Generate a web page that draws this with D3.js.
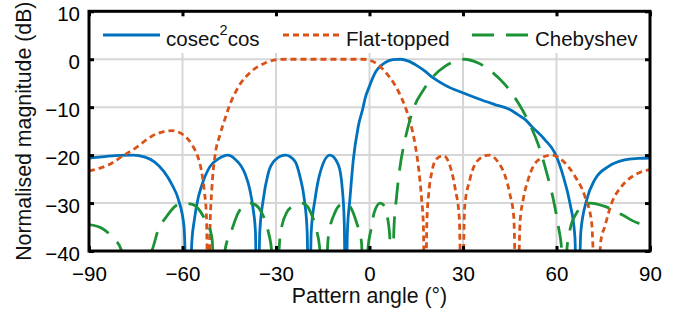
<!DOCTYPE html>
<html>
<head>
<meta charset="utf-8">
<script src="https://cdn.jsdelivr.net/npm/d3@7"></script>
<style>
  body { margin: 0; background: #fff; }
  svg { display: block; font-family: "Liberation Sans", Arial, sans-serif; }
</style>
</head>
<body>
<svg id="chart" width="688" height="322"></svg>
<script>
// pattern data (angle in degrees, magnitude in dB)
const cosecAngles = [-90, -85, -80, -76, -72, -69, -66, -63.5, -61.3, -59.5, -58.2, -57, -56.2, -55, -53.9, -51.2, -48.5, -45.5,
  -43.2, -40, -38.4, -37.3, -36.6, -36, -35.2, -34.1, -32.5, -30.3, -26.9, -23.9, -22.3, -20.9, -20, -19.4, -18.7, -17.5, -15.9,
  -12.7, -10, -8.7, -8.1, -7.6, -7.1, -6.3, -5.2, -3.6, -2, -1.5, 0, 1.75, 5, 7.5, 10, 12.5, 15.6, 18, 20, 24.2, 30.3, 36, 40, 45,
  47.7, 50, 52, 56.3, 59.5, 62.2, 64.3, 65.9, 66.8, 67.8, 69.7, 72.3, 76.6, 81.9, 86, 90];
const cosecValues = [-20.6, -20.3, -20.05, -20, -20.4, -21.4, -23.4, -26, -29.3, -35, -60, -38, -33.5, -29, -26.5, -22.4, -20.8, -20,
  -20.8, -23.8, -27.2, -31.4, -36, -60, -36, -29.3, -23.8, -21, -20, -21.3, -24.5, -29.3, -36, -60, -36, -29.3, -23.8,
  -20, -22, -27.2, -34, -60, -36, -29.3, -21, -14, -9.9, -8.4, -5.6, -2.9, -0.7, -0.1, 0, -0.4, -1.5, -2.6, -3.7, -5.4, -7.1, -8.5, -9.4, -10.5,
  -11.6, -12.6, -14, -16.8, -19.6, -24.5, -30, -37, -60, -36, -29.3, -25.1, -22.4, -21, -20.7, -20.6];

const flatAngles = [-90, -86, -83, -79.5, -75, -70, -66, -63.5, -61, -59.7, -57, -55, -54, -53, -52.3, -51.7, -51.2, -50.6, -49.6,
  -48, -46.4, -45, -42, -38, -33.5, -30.3, -27, -20, -10, -2, 0, 2.5, 5, 8, 10.3, 12, 13.5, 14.7, 15.8, 16.7, 17.3, 17.8, 18.4, 19,
  20, 21.5, 23.7, 25.8, 27.5, 28.8, 29.7, 30.5, 32.2, 34.9, 38.3, 41.3, 43.5, 45, 46.3, 47.3, 48.3, 49.3, 50.9, 54.2, 58.4, 62.2,
  66, 69.1, 71.3, 72.9, 74.2, 75.5, 77.7, 80.9, 85.2, 90];
const flatValues = [-23.3, -22.6, -21.8, -20.3, -18.5, -16.1, -15.1, -14.9, -15.3, -15.8, -17.8, -20.5, -23, -27.5, -33, -60, -36, -27.2, -20.3,
  -15.8, -12.5, -9.8, -5.7, -2.6, -0.8, -0.15, 0, 0, 0, 0, -0.2, -1, -2.6, -5.2, -8.1, -10.9, -14.2, -18, -23, -29, -35, -60, -34, -28,
  -23.5, -20.8, -20.1, -22.2, -27, -33, -60, -31, -25.1, -21, -20, -21.5, -24.3, -28, -33, -60, -34, -29.3, -25.1, -21, -20, -21.3,
  -24.5, -28.6, -34.2, -60, -38, -34.9, -30, -26.5, -24.1, -23];

const chebAngles = [-90, -86, -82.7, -79.5, -75.5, -71.5, -69.9, -67.8, -65.1, -62.4, -60.3, -58, -56, -53.3, -50.6, -49, -46.4,
  -44.2, -42.1, -40, -38.4, -36.5, -34.6, -32.5, -31.4, -30.5, -28.7, -26.6, -23.9, -21.8, -20, -18.6, -17, -15.9, -15, -13.2,
  -11.1, -9.5, -7.9, -6, -4.1, -2.6, -1.5, -0.5, 0.5, 1.5, 3.4, 4.9, 5.6, 6.5, 7.1, 7.8, 8.7, 9.8, 11.4, 13, 14.6, 17.3, 19.9,
  24.2, 28, 30.5, 34.9, 39.2, 43.5, 47.8, 51, 54.2, 56.9, 59, 60.6, 61.7, 62.5, 63.3, 64.3, 66.5, 69.1, 70.7, 75.5, 80.9, 86.3, 90];
const chebValues = [-34.5, -35.2, -37, -40, -60, -41, -40, -35.6, -32.8, -30.7, -30, -30.1, -30.5, -32.8, -37, -60, -40,
  -35.6, -32, -30.4, -30, -30.4, -32, -35.9, -40, -60, -37, -32, -30.4, -30, -30.6, -32.4, -35.6, -40, -60, -37,
  -32, -30.4, -30, -31, -34.2, -38, -60, -39.5, -35.5, -32, -30, -30.7, -32.5, -37, -60, -36, -28.6, -22.4, -16.8, -12.6, -9.5, -6.4, -4,
  -1.5, -0.3, 0, -0.8, -2.6, -5.3, -9.2, -13, -17.9, -23.8, -29.3, -34.9, -40, -60, -40, -35.6, -32, -30.4, -30, -30.7, -32.4, -34.2, -34.5];

const seriesNames = ["cosec2cos", "Flat-topped", "Chebyshev"];
const seriesColors = ["#0072BD", "#D95319", "#1b9236"];
const seriesDash = [null, "6,4", "22,12"];
const xTicks = [-90, -60, -30, 0, 30, 60, 90];
const yTicks = [-40, -30, -20, -10, 0, 10];

const svg = d3.select("#chart");
const margin = { top: 11.3, right: 38, bottom: 71, left: 89 };
const W = 688, H = 322;

const x = d3.scaleLinear().domain([-90, 90]).range([margin.left, W - margin.right]);
const y = d3.scaleLinear().domain([-40, 10]).range([H - margin.bottom, margin.top]);

// grid
svg.append("g")
  .selectAll("line.vg")
  .data(xTicks.slice(1, -1))
  .join("line")
  .attr("x1", d => x(d)).attr("x2", d => x(d))
  .attr("y1", y(-40)).attr("y2", y(10))
  .attr("stroke", "#d6d6d6").attr("stroke-width", 2);
svg.append("g")
  .selectAll("line.hg")
  .data(yTicks.slice(1, -1))
  .join("line")
  .attr("x1", x(-90)).attr("x2", x(90))
  .attr("y1", d => y(d)).attr("y2", d => y(d))
  .attr("stroke", "#d6d6d6").attr("stroke-width", 2);

// legend background sits over the grid
svg.append("rect")
  .attr("x", x(-90) + 2).attr("y", 16)
  .attr("width", x(90) - x(-90) - 4).attr("height", 37)
  .attr("fill", "#fff");

svg.append("clipPath").attr("id", "plot-clip")
  .append("rect")
  .attr("x", x(-90)).attr("y", y(10))
  .attr("width", x(90) - x(-90)).attr("height", y(-40) - y(10));

const series = [
  cosecAngles.map((a, i) => [a, cosecValues[i]]),
  flatAngles.map((a, i) => [a, flatValues[i]]),
  chebAngles.map((a, i) => [a, chebValues[i]])
];

const line = d3.line()
  .x(d => x(d[0]))
  .y(d => y(d[1]))
  .curve(d3.curveMonotoneX);

const plot = svg.append("g").attr("clip-path", "url(#plot-clip)");
series.forEach((s, i) => {
  plot.append("path")
    .datum(s)
    .attr("fill", "none")
    .attr("stroke", seriesColors[i])
    .attr("stroke-width", 2.8)
    .attr("stroke-dasharray", seriesDash[i])
    .attr("d", line);
});

// axes, ticks pointing inward
const fmt = d => d3.format("")(d);
const tickFont = g => g.selectAll(".tick text")
  .attr("font-size", 20.5).attr("fill", "#000")
  .attr("font-family", "Liberation Sans, Arial, sans-serif");

svg.append("g")
  .attr("transform", `translate(0,${y(-40)})`)
  .call(d3.axisBottom(x).tickValues(xTicks).tickSizeInner(-5).tickSizeOuter(0).tickPadding(15).tickFormat(fmt))
  .call(g => g.select(".domain").remove())
  .call(g => g.selectAll(".tick line").attr("stroke", "#000").attr("stroke-width", 3))
  .call(tickFont);

svg.append("g")
  .attr("transform", `translate(0,${y(10)})`)
  .call(d3.axisTop(x).tickValues(xTicks).tickSizeInner(-5).tickSizeOuter(0).tickFormat(""))
  .call(g => g.select(".domain").remove())
  .call(g => g.selectAll(".tick line").attr("stroke", "#000").attr("stroke-width", 3));

svg.append("g")
  .attr("transform", `translate(${x(-90)},0)`)
  .call(d3.axisLeft(y).tickValues(yTicks).tickSizeInner(-5).tickSizeOuter(0).tickPadding(9).tickFormat(fmt))
  .call(g => g.select(".domain").remove())
  .call(g => g.selectAll(".tick line").attr("stroke", "#000").attr("stroke-width", 3))
  .call(tickFont)
  .call(g => g.selectAll(".tick text").attr("dy", "0.46em"));

svg.append("g")
  .attr("transform", `translate(${x(90)},0)`)
  .call(d3.axisRight(y).tickValues(yTicks).tickSizeInner(-5).tickSizeOuter(0).tickFormat(""))
  .call(g => g.select(".domain").remove())
  .call(g => g.selectAll(".tick line").attr("stroke", "#000").attr("stroke-width", 3));

// frame
svg.append("rect")
  .attr("x", x(-90)).attr("y", y(10))
  .attr("width", x(90) - x(-90)).attr("height", y(-40) - y(10))
  .attr("fill", "none").attr("stroke", "#000").attr("stroke-width", 3);

// axis labels
svg.append("text")
  .attr("x", (x(-90) + x(90)) / 2).attr("y", 303)
  .attr("text-anchor", "middle").attr("font-size", 21.3).attr("fill", "#111")
  .text("Pattern angle (°)");
svg.append("text")
  .attr("transform", `translate(31,${(y(10) + y(-40)) / 2}) rotate(-90)`)
  .attr("text-anchor", "middle").attr("font-size", 21.3).attr("fill", "#111")
  .text("Normalised magnitude (dB)");

// legend
const legendX = [103, 283, 472];
const legend = svg.append("g");
seriesNames.forEach((name, i) => {
  legend.append("line")
    .attr("x1", legendX[i]).attr("x2", legendX[i] + 57)
    .attr("y1", 35).attr("y2", 35)
    .attr("stroke", seriesColors[i]).attr("stroke-width", 2.8)
    .attr("stroke-dasharray", seriesDash[i]);
  const t = legend.append("text")
    .attr("x", legendX[i] + 63).attr("y", 45.5)
    .attr("font-size", 20.5).attr("fill", "#111");
  if (i === 0) {
    t.append("tspan").text("cosec");
    t.append("tspan").attr("dy", -11).attr("font-size", 14.5).text("2");
    t.append("tspan").attr("dy", 11).text("cos");
  } else {
    t.text(name);
  }
});
</script>
</body>
</html>
